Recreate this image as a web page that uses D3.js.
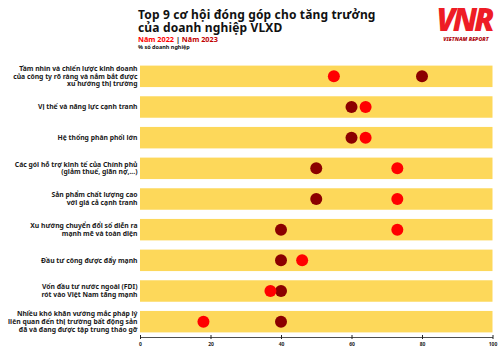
<!DOCTYPE html>
<html>
<head>
<meta charset="utf-8">
<script src="https://cdn.jsdelivr.net/npm/d3@7"></script>
<style>
  body { margin: 0; background: #fff; }
  svg { display: block; font-family: "Noto Sans", "Open Sans", sans-serif; }
</style>
</head>
<body>
<div id="chart"></div>
<script>
const categories = [
  ['Tầm nhìn và chiến lược kinh doanh', 'của công ty rõ ràng và nắm bắt được', 'xu hướng thị trường'],
  ['Vị thế và năng lực cạnh tranh'],
  ['Hệ thống phân phối lớn'],
  ['Các gói hỗ trợ kinh tế của Chính phủ', '(giảm thuế, giãn nợ,...)'],
  ['Sản phẩm chất lượng cao', 'với giá cả cạnh tranh'],
  ['Xu hướng chuyển đổi số diễn ra', 'mạnh mẽ và toàn diện'],
  ['Đầu tư công được đẩy mạnh'],
  ['Vốn đầu tư nước ngoài (FDI)', 'rót vào Việt Nam tăng mạnh'],
  ['Nhiều khó khăn vướng mắc pháp lý', 'liên quan đến thị trường bất động sản', 'đã và đang được tập trung tháo gỡ']
];
const values2022 = [55, 64, 64, 73, 73, 73, 46, 37, 18];
const values2023 = [80, 60, 60, 50, 50, 40, 40, 40, 40];
const xTicks = [0, 20, 40, 60, 80, 100];

const width = 500, height = 353;
const svg = d3.select('#chart').append('svg')
  .attr('width', width)
  .attr('height', height);

const x = d3.scaleLinear().domain([0, 100]).range([140, 492.5]);
const y = d3.scaleBand()
  .domain(d3.range(categories.length))
  .range([61, 337])
  .paddingInner(0.3)
  .paddingOuter(0.15);

// title
svg.append('text')
  .attr('x', 138).attr('y', 18.5)
  .attr('font-size', 12).attr('font-weight', 700).attr('fill', '#111')
  .attr('letter-spacing', 0.15)
  .text('Top 9 cơ hội đóng góp cho tăng trưởng');
svg.append('text')
  .attr('x', 138).attr('y', 31.5)
  .attr('font-size', 12).attr('font-weight', 700).attr('fill', '#111')
  .attr('letter-spacing', 0.15)
  .text('của doanh nghiệp VLXD');
const leg = svg.append('text')
  .attr('x', 138).attr('y', 41.5)
  .attr('font-size', 7.3).attr('font-weight', 700);
leg.append('tspan').attr('fill', '#ff0000').text('Năm 2022');
leg.append('tspan').attr('fill', '#111').text(' | ');
leg.append('tspan').attr('fill', '#c00000').text('Năm 2023');
svg.append('text')
  .attr('x', 138).attr('y', 49)
  .attr('font-size', 5.5).attr('font-weight', 700).attr('fill', '#111')
  .text('% số doanh nghiệp');

// logo
svg.append('text')
  .attr('x', 464).attr('y', 31)
  .attr('text-anchor', 'middle')
  .attr('font-size', 31).attr('font-weight', 900).attr('font-style', 'italic')
  .attr('letter-spacing', -3)
  .attr('fill', '#ee1c25')
  .text('VNR');
svg.append('text')
  .attr('x', 466).attr('y', 41)
  .attr('text-anchor', 'middle')
  .attr('font-size', 5.3).attr('font-weight', 900).attr('font-style', 'italic')
  .attr('fill', '#b01015')
  .text('VIETNAM REPORT');

// bars
svg.append('g')
  .selectAll('rect')
  .data(categories)
  .join('rect')
    .attr('x', x(0))
    .attr('y', (d, i) => y(i))
    .attr('width', x(100) - x(0))
    .attr('height', y.bandwidth())
    .attr('fill', '#fdd85a');

// labels
const lineH = 7.7;
svg.append('g')
  .selectAll('text')
  .data(categories)
  .join('text')
    .attr('text-anchor', 'end')
    .attr('font-size', 6.8)
    .attr('font-weight', 700)
    .attr('fill', '#1a1a1a')
    .each(function(d, i) {
      const cy = y(i) + y.bandwidth() / 2;
      const y0 = cy - (d.length - 1) * lineH / 2 + 2.3;
      d3.select(this).selectAll('tspan')
        .data(d)
        .join('tspan')
          .attr('x', 137.5)
          .attr('y', (t, j) => y0 + j * lineH)
          .text(t => t);
    });

// dots
svg.append('g')
  .selectAll('circle')
  .data(values2023)
  .join('circle')
    .attr('cx', d => x(d))
    .attr('cy', (d, i) => y(i) + y.bandwidth() / 2)
    .attr('r', 6)
    .attr('fill', '#8b0000');
svg.append('g')
  .selectAll('circle')
  .data(values2022)
  .join('circle')
    .attr('cx', d => x(d))
    .attr('cy', (d, i) => y(i) + y.bandwidth() / 2)
    .attr('r', 6)
    .attr('fill', '#ff0000');

// axis
const axis = svg.append('g')
  .attr('transform', 'translate(0, 337)')
  .call(d3.axisBottom(x).tickValues(xTicks).tickSize(3).tickSizeOuter(0));
axis.select('.domain').attr('stroke', '#222').attr('stroke-width', 0.8);
axis.selectAll('.tick line').attr('stroke', '#222').attr('y1', -2).attr('y2', 2);
axis.selectAll('.tick text')
  .attr('y', 5)
  .attr('font-size', 5)
  .attr('font-weight', 700)
  .attr('fill', '#222')
  .attr('font-family', '"Noto Sans", sans-serif');
</script>
</body>
</html>
